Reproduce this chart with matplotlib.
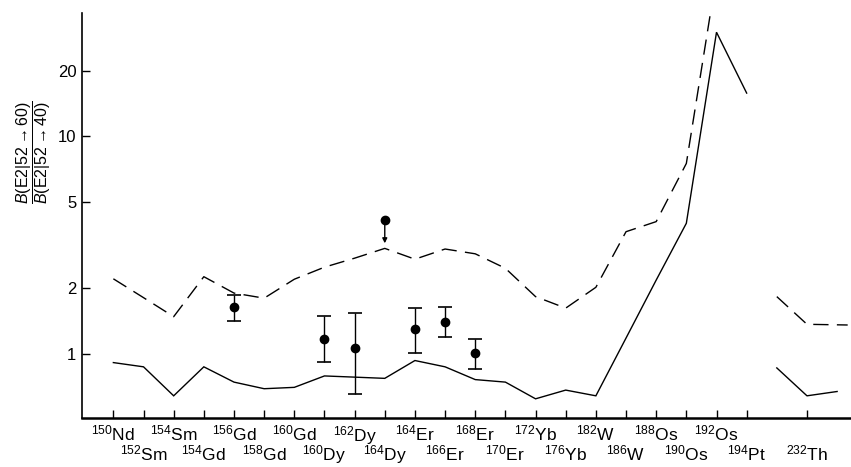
import matplotlib
matplotlib.use("Agg")
import matplotlib.pyplot as plt
from matplotlib import font_manager
import numpy as np

# ---------------- data ----------------
masses = [150, 152, 154, 154, 156, 158, 160, 160, 162, 164, 164, 166, 168, 170,
          172, 176, 182, 186, 188, 190, 192, 194, 232]
symbols = ['Nd', 'Sm', 'Sm', 'Gd', 'Gd', 'Gd', 'Gd', 'Dy', 'Dy', 'Dy', 'Er', 'Er',
           'Er', 'Er', 'Yb', 'Yb', 'W', 'W', 'Os', 'Os', 'Os', 'Pt', 'Th']
label_pos = list(range(22)) + [23]

# solid curve (rare earth -> Pt)
solid_x = list(range(22))
solid_y = [0.91, 0.87, 0.64, 0.87, 0.74, 0.69, 0.70, 0.79, 0.78, 0.77, 0.93, 0.87,
           0.76, 0.74, 0.62, 0.68, 0.64, 1.18, 2.18, 3.98, 30.1, 15.8]
# dashed curve
dash_x = list(range(21))
dash_y = [2.21, 1.81, 1.48, 2.26, 1.90, 1.80, 2.20, 2.50, 2.75, 3.05, 2.72, 3.03,
          2.88, 2.47, 1.83, 1.62, 2.02, 3.64, 4.05, 7.5, 55.0]
# actinide region
th_solid_x = [22, 23, 24]
th_solid_y = [0.86, 0.64, 0.67]
th_dash_x = [22, 23, 24.35]
th_dash_y = [1.83, 1.365, 1.355]

# experimental points
exp_x = [4, 7, 8, 10, 11, 12]
exp_y = [1.635, 1.168, 1.059, 1.299, 1.403, 1.004]
exp_hi = [1.862, 1.491, 1.534, 1.628, 1.635, 1.165]
exp_lo = [1.414, 0.913, 0.653, 1.004, 1.19, 0.853]
lim_x = [9]
lim_y = [4.12]
lim_tip = [3.22]

yticks = [1, 2, 5, 10, 20]

# ---------------- fonts ----------------
names = {f.name for f in font_manager.fontManager.ttflist}
fam = 'Liberation Sans Narrow' if 'Liberation Sans Narrow' in names else 'Liberation Sans'
plt.rcParams['font.family'] = [fam, 'DejaVu Sans']
plt.rcParams['mathtext.fontset'] = 'custom'
plt.rcParams['mathtext.rm'] = fam
plt.rcParams['mathtext.it'] = fam + ':italic'
plt.rcParams['mathtext.bf'] = fam + ':bold'

W, H = 851, 467
fig = plt.figure(figsize=(W / 100, H / 100), dpi=100)
ax = fig.add_axes([82 / W, 49 / H, 769 / W, 405 / H])

ax.set_yscale('log')
ax.set_xlim(-1.04, 24.46)
ax.set_ylim(0.506, 36.9)

lw = 1.0
ax.plot(solid_x, solid_y, color='black', lw=lw, solid_joinstyle='miter')
ax.plot(th_solid_x, th_solid_y, color='black', lw=lw)
ax.plot(dash_x, dash_y, color='black', lw=lw, dashes=(11, 6))
ax.plot(th_dash_x, th_dash_y, color='black', lw=lw, dashes=(11, 6))

yerr = [np.array(exp_y) - np.array(exp_lo), np.array(exp_hi) - np.array(exp_y)]
ax.errorbar(exp_x, exp_y, yerr=yerr, fmt='o', color='black', ms=6,
            elinewidth=1.0, capsize=4.8, capthick=1.2)
ax.plot(lim_x, lim_y, 'o', color='black', ms=6)
for x, y0, y1 in zip(lim_x, lim_y, lim_tip):
    ax.annotate('', xy=(x, y1), xytext=(x, y0),
                arrowprops=dict(arrowstyle='-|>', color='black', lw=1.0,
                                mutation_scale=7, shrinkA=0, shrinkB=0))

# axes styling
for s in ['top', 'right']:
    ax.spines[s].set_visible(False)
ax.spines['left'].set_linewidth(1.2)
ax.spines['bottom'].set_linewidth(1.8)

ax.set_yticks(yticks)
ax.set_yticklabels([str(v) for v in yticks], fontsize=12)
ax.yaxis.set_minor_locator(matplotlib.ticker.NullLocator())
ax.tick_params(axis='y', direction='in', length=6, width=1.0, pad=4)

ax.set_xticks(label_pos)
ax.set_xticklabels([])
ax.tick_params(axis='x', direction='in', length=6, width=1.0)

xt = ax.get_xaxis_transform()
for i, (p, m, s) in enumerate(zip(label_pos, masses, symbols)):
    yoff = -0.014 if p % 2 == 0 else -0.062
    ax.text(p, yoff, r'$^{%d}$%s' % (m, s), transform=xt, ha='center', va='top',
            fontsize=12.5)

fig.text(34 / W, 1 - 152 / H,
         r'$\dfrac{B(\mathrm{E2}|52\rightarrow60)}{B(\mathrm{E2}|52\rightarrow40)}$',
         rotation=90, ha='center', va='center', fontsize=11.5)

fig.savefig('out.png', dpi=100)
